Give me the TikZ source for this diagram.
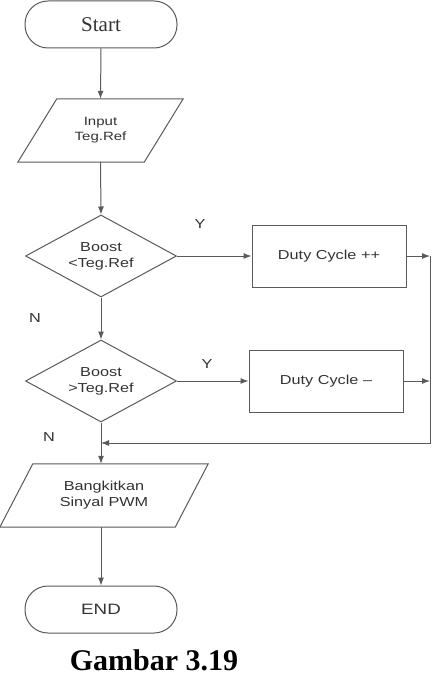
\documentclass[tikz,border=0pt]{standalone}
\usepackage{fontspec}
\usepackage{graphicx}
\setmainfont{Liberation Serif}
\newfontfamily\arialf{Liberation Sans}
\usetikzlibrary{arrows.meta,shapes.geometric}
\newcommand{\stx}[1]{\scalebox{1.25}[1]{#1}}
\definecolor{linegray}{HTML}{5A5A5A}
\definecolor{textgray}{HTML}{333333}
\begin{document}
\begin{tikzpicture}[x=1pt,y=-1pt,
  line/.style={draw=linegray,line width=1pt},
  arr/.style={line,-{Latex[length=8pt,width=6pt]}},
  term/.style={rectangle,draw=linegray,line width=1pt,rounded corners=23pt,
    minimum width=152pt,minimum height=47pt,inner sep=0pt,text=textgray},
  dec/.style={diamond,aspect=1.84,draw=linegray,line width=1pt,minimum width=151pt,
    minimum height=82pt,inner sep=0pt,align=center,text=textgray,
    font=\arialf\fontsize{13}{16}\selectfont},
  proc/.style={rectangle,draw=linegray,line width=1pt,minimum width=154pt,
    minimum height=62pt,inner sep=0pt,text=textgray,
    font=\arialf\fontsize{13}{16}\selectfont},
  iobox/.style={rectangle,inner sep=0pt,align=center,text=textgray,
    font=\arialf\fontsize{13}{16}\selectfont},
  para/.style={draw=linegray,line width=1pt,line join=miter},
  lbl/.style={font=\arialf\fontsize{13}{15}\selectfont,text=textgray,inner sep=0pt}
]
\useasboundingbox[fill=white] (0,0) rectangle (436,685);

\node[term,font=\fontsize{21}{24}\selectfont] (start) at (101,24.5) {Start};

\node[iobox,minimum width=165pt,minimum height=63pt,
  font=\arialf\fontsize{12}{15}\selectfont] (inp) at (100.5,130.5)
  {\stx{Input}\\\stx{Teg.Ref}};
\draw[para] (inp.south west) -- ([xshift=39pt]inp.north west) -- (inp.north east)
  -- ([xshift=-39pt]inp.south east) -- cycle;

\node[dec] (d1) at (101,256) {\stx{Boost}\\\stx{<Teg.Ref}};
\node[proc] (b1) at (329,256) {\stx{Duty Cycle ++}};

\node[dec] (d2) at (101,381) {\stx{Boost}\\\stx{>Teg.Ref}};
\node[proc] (b2) at (326,381) {\stx{Duty Cycle –}};

\node[iobox,minimum width=208pt,minimum height=63pt] (pwm) at (104,495.5)
  {\stx{Bangkitkan}\\\stx{Sinyal PWM}};
\draw[para] (pwm.south west) -- ([xshift=33pt]pwm.north west) -- (pwm.north east)
  -- ([xshift=-33pt]pwm.south east) -- cycle;

\node[term,font=\arialf\fontsize{15}{18}\selectfont] (end) at (101,609.5) {\stx{END}};

\node[font=\bfseries\fontsize{30}{34}\selectfont,anchor=base,inner sep=0pt] (cap) at (154,670) {Gambar 3.19};

\coordinate (r1) at (430,256);
\coordinate (r2) at (430,381);
\coordinate (rb) at (430,443);
\coordinate (j) at (101,443);

\draw[arr] (start.south) -- (inp.north);
\draw[arr] (inp.south) -- (d1.north);
\draw[arr] (d1.east) -- (b1.west);
\draw[arr] (b1.east) -- (r1);
\draw[arr] (d1.south) -- (d2.north);
\draw[arr] (d2.east) -- (b2.west);
\draw[arr] (b2.east) -- (r2);
\draw[arr] (r1) -- (rb) -- (j);
\draw[arr] (d2.south) -- (d2.south |- pwm.north);
\draw[arr] (end.north |- pwm.south) -- (end.north);

\node[lbl] (y1) at (200,224) {\stx{Y}};
\node[lbl] (y2) at (207,364) {\stx{Y}};
\node[lbl] (n1) at (35,318) {\stx{N}};
\node[lbl] (n2) at (49,437) {\stx{N}};
\end{tikzpicture}
\end{document}
